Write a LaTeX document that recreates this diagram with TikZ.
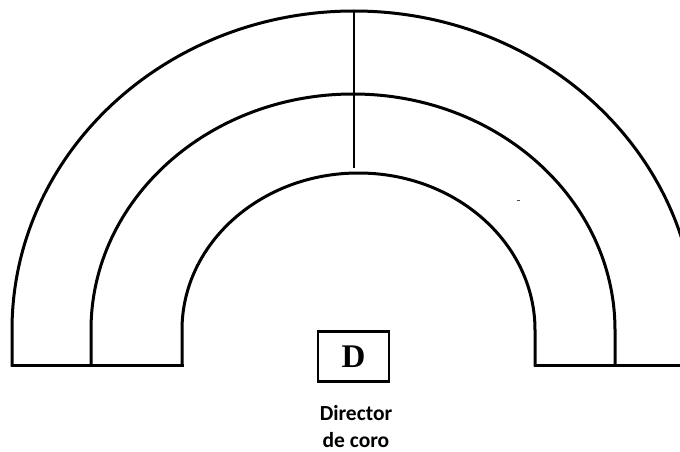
\documentclass[tikz,border=0pt]{standalone}
\usepackage{fontspec}
\setmainfont{Liberation Serif}
\newfontfamily\labelfont{Carlito}
\begin{document}
\begin{tikzpicture}[x=1pt,y=-1pt,
  rowline/.style={line width=3pt,line join=miter,line cap=rect},
  axis/.style={line width=1.4pt},
  dbox/.style={draw,line width=2.4pt,minimum width=71pt,minimum height=50pt,inner sep=0pt,
    font=\fontsize{33}{33}\selectfont\bfseries},
  caption/.style={anchor=base,inner sep=0pt,font=\labelfont\bfseries\fontsize{21.5}{28}\selectfont}]
\useasboundingbox (0,0) rectangle (680,452);
\clip (0,0) rectangle (680,452);
% outer row
\draw[rowline] (12,365) -- (12,330) arc[start angle=180,end angle=360,x radius=342,y radius=319] -- (696,365);
% middle row
\draw[rowline] (91,365) -- (91,330) arc[start angle=180,end angle=360,x radius=262,y radius=236] -- (615,365);
% inner row
\draw[rowline] (182,365) -- (182,330) arc[start angle=180,end angle=360,x radius=176.5,y radius=157] -- (535,365);
% baselines
\draw[rowline] (12,365) -- (182,365);
\draw[rowline] (535,365) -- (696,365);
% central divider
\coordinate (top) at (354,11);
\coordinate (bot) at (354,168);
\draw[axis] (top) -- (bot);
% small speck
\draw[line width=0.8pt,black!70] (516.5,200) -- (519.5,200);
% director box
\node[dbox] (d) at (353.5,356.5) {D};
\node[caption] (lab1) at (356,420) {Director};
\node[caption] (lab2) at (356,447) {de coro};
\end{tikzpicture}
\end{document}
